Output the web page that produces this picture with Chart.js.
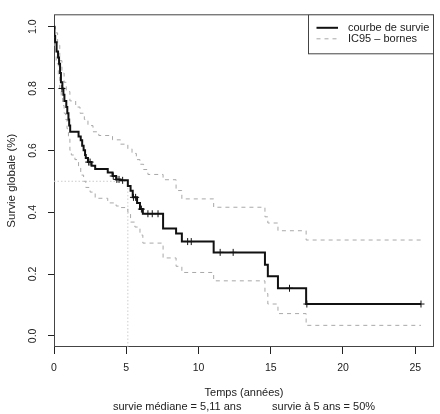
<!DOCTYPE html>
<html>
<head>
<meta charset="utf-8">
<script src="https://cdn.jsdelivr.net/npm/chart.js@4.4.0/dist/chart.umd.min.js"></script>
<style>
  html, body { margin: 0; padding: 0; background: #fff; }
  canvas { display: block; }
</style>
</head>
<body>
<canvas id="survieChart" width="440" height="414"></canvas>
<script>
// courbe de Kaplan-Meier : temps (années) et survie
const kmTimes = [0, 0.03, 0.08, 0.18, 0.28, 0.35, 0.42, 0.48, 0.58, 0.65, 0.72, 0.85, 0.92, 1.0, 1.05, 1.12,
  1.7, 1.85, 1.95, 2.05, 2.15, 2.2, 2.35, 2.6, 2.85, 3.72, 4.05, 4.3, 4.6, 5.11, 5.3, 5.45, 5.75, 5.95, 6.15,
  7.55, 8.45, 8.85, 11.05, 14.6, 14.8, 15.5, 17.45, 25.4];
const kmSurv = [1.0, 0.97, 0.95, 0.92, 0.9, 0.88, 0.85, 0.82, 0.8, 0.78, 0.76, 0.74, 0.72, 0.7, 0.68, 0.66,
  0.645, 0.633, 0.615, 0.6, 0.585, 0.575, 0.562, 0.55, 0.54, 0.528, 0.517, 0.506, 0.503, 0.485, 0.469, 0.448, 0.43, 0.41, 0.395,
  0.347, 0.331, 0.305, 0.27, 0.23, 0.193, 0.154, 0.103, 0.103];

// bornes de l'intervalle de confiance à 95 %
const upperTimes = [0, 0.1, 0.25, 0.4, 0.55, 0.7, 0.85, 1.1, 1.5, 1.8, 2.1, 2.35, 2.7, 3.1, 4.05, 4.6, 5.11, 5.4,
  5.7, 5.95, 6.2, 6.5, 7.55, 8.45, 8.85, 11.05, 14.6, 14.8, 15.5, 17.45, 25.4];
const upperSurv = [1.0, 0.98, 0.94, 0.89, 0.85, 0.82, 0.79, 0.76, 0.74, 0.72, 0.7, 0.68, 0.66, 0.648, 0.634, 0.62, 0.605, 0.59,
  0.57, 0.555, 0.538, 0.522, 0.505, 0.47, 0.443, 0.416, 0.385, 0.365, 0.34, 0.31, 0.31];
const lowerTimes = [0, 0.05, 0.15, 0.3, 0.4, 0.5, 0.6, 0.7, 0.8, 0.9, 1.0, 1.1, 1.2, 1.45, 1.7, 1.85, 2.05, 2.2, 2.5, 2.85,
  3.72, 4.3, 4.6, 5.11, 5.3, 5.6, 5.95, 6.15, 7.55, 8.45, 8.85, 11.05, 14.6, 14.8, 15.5, 17.45, 25.4];
const lowerSurv = [1.0, 0.93, 0.88, 0.84, 0.8, 0.77, 0.745, 0.72, 0.7, 0.67, 0.64, 0.6, 0.585, 0.57, 0.545, 0.52, 0.5, 0.48, 0.465, 0.445,
  0.43, 0.42, 0.415, 0.4, 0.368, 0.352, 0.326, 0.3, 0.252, 0.225, 0.205, 0.178, 0.137, 0.103, 0.072, 0.034, 0.034];

// données censurées (+)
const censorTimes = [0.55, 2.4, 2.5, 4.1, 4.35, 4.5, 4.75, 5.5, 5.65, 6.05, 6.5, 6.8, 7.2, 9.25, 9.5, 11.5, 12.4, 16.3, 17.5, 25.4];
const censorSurv = [0.8, 0.562, 0.562, 0.517, 0.506, 0.506, 0.503, 0.448, 0.448, 0.41, 0.395, 0.395, 0.395, 0.305, 0.305, 0.27, 0.27, 0.154, 0.103, 0.103];

// médiane de survie
const medianTimes = [0, 5.11, 5.11];
const medianSurv = [0.5, 0.5, -0.036];

const xTicks = [0, 5, 10, 15, 20, 25];
const yTicks = [0, 0.2, 0.4, 0.6, 0.8, 1.0];

const FONT = "'Liberation Sans', Arial, Helvetica, sans-serif";

function toPoints(xs, ys) {
  return xs.map((x, i) => ({ x: x, y: ys[i] }));
}

// cadre autour de la zone du graphique
const plotBox = {
  id: "plotBox",
  beforeDatasetsDraw(chart) {
    const { ctx, chartArea: a } = chart;
    ctx.save();
    ctx.strokeStyle = "#444";
    ctx.lineWidth = 1;
    ctx.strokeRect(a.left + 0.5, a.top + 0.5, a.right - a.left - 1, a.bottom - a.top - 1);
    ctx.restore();
  }
};

// légende encadrée en haut à droite
const boxLegend = {
  id: "boxLegend",
  afterDraw(chart) {
    const { ctx, chartArea } = chart;
    const items = chart.data.datasets.filter(d => d.inLegend);
    const w = 126, h = 39;
    const x0 = chartArea.right - w, y0 = chartArea.top;
    ctx.save();
    ctx.fillStyle = "#fff";
    ctx.fillRect(x0, y0, w, h);
    ctx.strokeStyle = "#444";
    ctx.lineWidth = 1;
    ctx.strokeRect(x0 + 0.5, y0 + 0.5, w - 1, h);
    ctx.font = "11px " + FONT;
    ctx.textBaseline = "middle";
    items.forEach((d, i) => {
      const y = y0 + 13.5 + i * 11;
      ctx.strokeStyle = d.borderColor;
      ctx.lineWidth = d.borderWidth;
      ctx.setLineDash(d.borderDash || []);
      ctx.beginPath();
      ctx.moveTo(x0 + 8.5, y);
      ctx.lineTo(x0 + 30, y);
      ctx.stroke();
      ctx.setLineDash([]);
      ctx.fillStyle = "#222";
      ctx.fillText(d.label, x0 + 40, y);
    });
    ctx.restore();
  }
};

const ctx = document.getElementById("survieChart").getContext("2d");

new Chart(ctx, {
  type: "scatter",
  data: {
    datasets: [
      {
        label: "courbe de survie",
        inLegend: true,
        data: toPoints(kmTimes, kmSurv),
        showLine: true,
        stepped: true,
        borderColor: "#111",
        borderWidth: 2,
        pointRadius: 0
      },
      {
        label: "censures",
        data: toPoints(censorTimes, censorSurv),
        showLine: false,
        pointStyle: "cross",
        pointRadius: 3.5,
        borderColor: "#111",
        borderWidth: 1
      },
      {
        label: "IC95 – bornes",
        inLegend: true,
        data: toPoints(upperTimes, upperSurv),
        showLine: true,
        stepped: true,
        borderColor: "#a8a8a8",
        borderWidth: 1,
        borderDash: [4, 4],
        pointRadius: 0
      },
      {
        label: "IC95 inf",
        data: toPoints(lowerTimes, lowerSurv),
        showLine: true,
        stepped: true,
        borderColor: "#a8a8a8",
        borderWidth: 1,
        borderDash: [4, 4],
        pointRadius: 0
      },
      {
        label: "médiane",
        data: toPoints(medianTimes, medianSurv),
        showLine: true,
        borderColor: "#cccccc",
        borderWidth: 1,
        borderDash: [1.5, 2],
        pointRadius: 0
      }
    ]
  },
  options: {
    responsive: false,
    animation: false,
    devicePixelRatio: 1,
    layout: { padding: { top: 9, right: 6, bottom: 0, left: 0 } },
    plugins: {
      legend: { display: false },
      tooltip: { enabled: false }
    },
    scales: {
      x: {
        type: "linear",
        min: 0,
        max: 26.3,
        afterBuildTicks: s => { s.ticks = xTicks.map(v => ({ value: v })); },
        afterFit: s => { s.height = 67; },
        border: { display: false },
        grid: { drawOnChartArea: false, drawTicks: true, tickLength: 7, tickColor: "#222" },
        ticks: { color: "#222", font: { size: 10.5, family: FONT }, padding: 8, maxRotation: 0, autoSkip: false },
        title: {
          display: true,
          text: ["Temps (années)", "survie médiane = 5,11 ans          survie à 5 ans = 50%"],
          color: "#222",
          font: { size: 11, family: FONT, lineHeight: 1.27 },
          padding: { top: 0, bottom: 0 }
        }
      },
      y: {
        type: "linear",
        min: -0.036,
        max: 1.04,
        afterBuildTicks: s => { s.ticks = yTicks.map(v => ({ value: v })); },
        afterFit: s => { s.width = 54; },
        border: { display: false },
        grid: { drawOnChartArea: false, drawTicks: true, tickLength: 6, tickColor: "#222" },
        ticks: {
          color: "#222",
          font: { size: 10.5, family: FONT },
          minRotation: 90,
          maxRotation: 90,
          crossAlign: "center",
          padding: 8,
          autoSkip: false,
          callback: v => v.toFixed(1)
        },
        title: {
          display: true,
          text: "Survie globale (%)",
          color: "#222",
          font: { size: 11.5, family: FONT },
          padding: { top: 5, bottom: 0 }
        }
      }
    }
  },
  plugins: [plotBox, boxLegend]
});
</script>
</body>
</html>
